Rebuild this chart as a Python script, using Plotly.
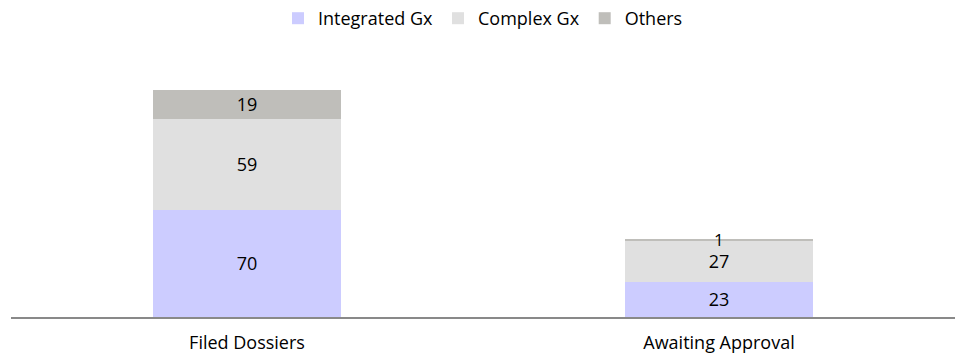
import plotly.graph_objects as go

categories = ["Filed Dossiers", "Awaiting Approval"]
integrated_gx = [70, 23]
complex_gx = [59, 27]
others = [19, 1]

colors = {"Integrated Gx": "#CCCCFF", "Complex Gx": "#E0E0E0", "Others": "#BFBEBA"}
font_family = "'Open Sans', Lato, sans-serif"

fig = go.Figure()
for name, vals in [("Integrated Gx", integrated_gx), ("Complex Gx", complex_gx)]:
    fig.add_trace(go.Bar(
        x=categories, y=vals, name=name, marker=dict(color=colors[name], line=dict(width=0)),
        text=[str(v) for v in vals], textposition="inside", insidetextanchor="middle",
        textangle=0, constraintext="none",
        textfont=dict(size=18, color="black", family=font_family), width=0.4,
    ))

# Others: label inside where it fits, annotation for tiny segment
others_text = [str(v) if v >= 5 else "" for v in others]
fig.add_trace(go.Bar(
    x=categories, y=others, name="Others", marker=dict(color=colors["Others"], line=dict(width=0)),
    text=others_text, textposition="inside", insidetextanchor="middle",
    textangle=0, constraintext="none",
    textfont=dict(size=18, color="black", family=font_family), width=0.4,
))
for c, a, b, o in zip(categories, integrated_gx, complex_gx, others):
    if o < 5:
        fig.add_annotation(x=c, y=a + b + o, text=str(o), showarrow=False, yanchor="top",
                           yshift=12, borderpad=0,
                           font=dict(size=17, color="black", family=font_family))

fig.update_layout(
    barmode="stack",
    width=958, height=363,
    margin=dict(l=11, r=3, t=60, b=46),
    paper_bgcolor="white", plot_bgcolor="white",
    font=dict(family=font_family, size=18, color="black"),
    legend=dict(orientation="h", x=0.5, xanchor="center", y=1.0, yref="container", yanchor="top",
                font=dict(size=18, color="black"), traceorder="normal", itemwidth=30,
                tracegroupgap=0),
    showlegend=True,
    uniformtext=dict(mode=False),
)
fig.update_xaxes(showline=True, linecolor="#898989", linewidth=2, ticks="", range=[-0.5, 1.5],
                 tickfont=dict(size=18, color="black"), showgrid=False, ticklabelstandoff=8)
fig.update_yaxes(visible=False, range=[0, 167.5], showgrid=False)

fig.write_html("out.html")
